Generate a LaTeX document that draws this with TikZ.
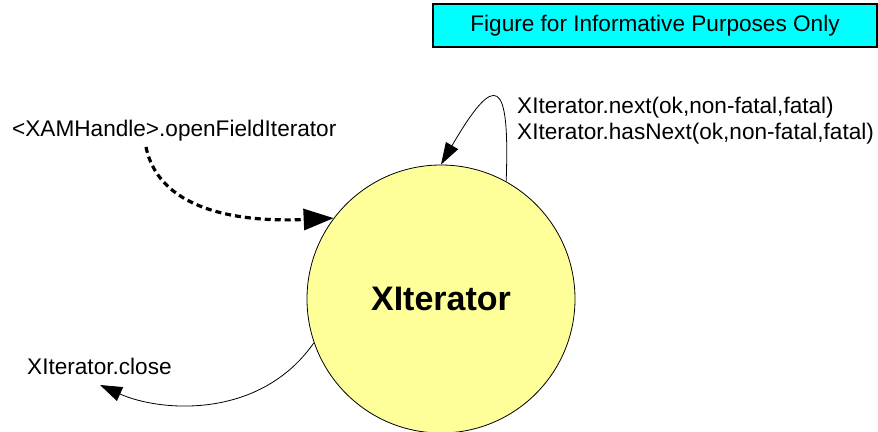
\documentclass[tikz,border=0pt]{standalone}
\usepackage{fontspec}
\setmainfont{Liberation Sans}
\usetikzlibrary{arrows.meta}
\definecolor{stateyellow}{RGB}{255,255,153}
\definecolor{bannercyan}{RGB}{0,255,255}
\tikzset{
  lbl/.style={inner sep=0, font=\fontsize{22.6}{26}\selectfont},
  flow/.style={line width=.8pt, -{Triangle[length=22pt,width=15pt]}}
}

\begin{document}
\begin{tikzpicture}[x=1pt,y=-1pt]
      \useasboundingbox (0,0) rectangle (878,431);
      \node[draw, line width=1.2pt, fill=bannercyan, minimum width=444, minimum height=43, lbl] (banner) at (655,25.5) {Figure for Informative Purposes Only};
      \node[circle, draw, line width=.8pt, fill=stateyellow, minimum size=268, font=\fontsize{34}{36}\selectfont\bfseries] (iter) at (441,299) {XIterator};
      \node[lbl, anchor=west] (open) at (12,131) {<XAMHandle>.openFieldIterator};
      \node[lbl, anchor=west, align=left] (next) at (517,121) {XIterator.next(ok,non-fatal,fatal)\\XIterator.hasNext(ok,non-fatal,fatal)};
      \node[lbl, anchor=west] (close) at (27,366) {XIterator.close};
      \coordinate (openfoot) at (146,147);
      \coordinate (closefoot) at (100,385);
      % create
      \draw[flow, line width=3.2pt, dash pattern=on 6pt off 4pt, -{Triangle[length=30pt,width=21pt]}] (openfoot) .. controls (160,215) and (250,222) .. (iter.143);
      % next / hasNext
      \draw[flow, -{Triangle[length=22pt,width=14pt]}] (iter.61) .. controls (510,78) and (496,70) .. (iter.90);
      % close
      \draw[flow] (iter.199) .. controls (260,420) and (160,412) .. (closefoot);
\end{tikzpicture}
\end{document}
